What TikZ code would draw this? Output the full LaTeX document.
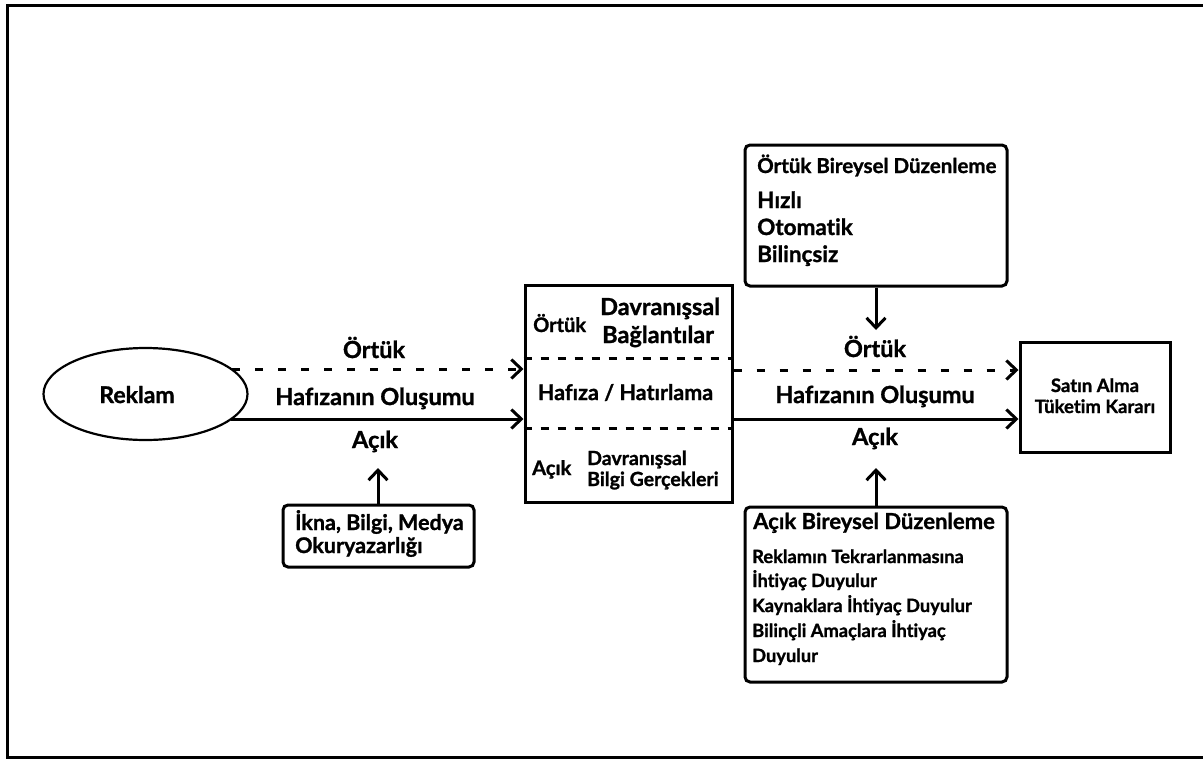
\documentclass[tikz,border=0pt]{standalone}
\usepackage{fontspec}
\setmainfont{Lato}[Ligatures=NoCommon, BoldFeatures={FakeBold=1.2}]
\usetikzlibrary{arrows.meta,shapes.geometric}
\begin{document}
\begin{tikzpicture}[x=1pt,y=-1pt,
  fs/.style={font=\bfseries\fontsize{#1}{#1}\selectfont, inner sep=0pt},
  box/.style={draw, line width=3pt, inner sep=0pt},
  rbox/.style={box, rounded corners=5pt},
  conn/.style={line width=3pt, -{Straight Barb[length=10pt,width=19pt,line width=3pt]}},
  dconn/.style={conn, dash pattern=on 8pt off 15pt},
  divider/.style={line width=3pt, dash pattern=on 8pt off 9pt},
]
\useasboundingbox (0,0) rectangle (1203,761);
\draw[line width=3pt] (7,5) rectangle (1210,757);

% main shapes
\node[draw, ellipse, line width=2.2pt, minimum width=204, minimum height=92, inner sep=0pt] (rek) at (145.5,394) {};
\node[fs=23, anchor=base] (rektxt) at (137,403) {Reklam};

\node[box, minimum width=207, minimum height=217] (mem) at (628.5,393.5) {};
\node[box, minimum width=150, minimum height=110] (buy) at (1095,397) {};
\node[rbox, minimum width=191, minimum height=62] (ikna) at (378.5,536) {};
\node[rbox, minimum width=262, minimum height=141] (ortb) at (876,215.5) {};
\node[rbox, minimum width=262, minimum height=175] (acb) at (876,594.5) {};

% dividers in memory box
\draw[divider] (mem.west |- 0,358) -- (mem.east |- 0,358);
\draw[divider] (mem.west |- 0,428) -- (mem.east |- 0,428);

% memory box texts
\node[fs=20, anchor=base west] (m1) at (533,332) {Örtük};
\node[fs=23.5, anchor=base west] (m2) at (600,315) {Davranışsal};
\node[fs=23.5, anchor=base west] (m3) at (602,343) {Bağlantılar};
\node[fs=21.5, anchor=base] (m4) at (625.5,400) {Hafıza / Hatırlama};
\node[fs=20, anchor=base west] (m5) at (532,475) {Açık};
\node[fs=19.5, anchor=base west] (m6) at (587,465) {Davranışsal};
\node[fs=19.5, anchor=base west] (m7) at (587,486) {Bilgi Gerçekleri};

% purchase box texts
\node[fs=18.5, anchor=base] (b1) at (1095,392) {Satın Alma};
\node[fs=18.5, anchor=base] (b2) at (1095,413) {Tüketim Kararı};

% ikna box texts
\node[fs=21.5, anchor=base west] (i1) at (295,530) {İkna, Bilgi, Medya};
\node[fs=21.5, anchor=base west] (i2) at (295,553) {Okuryazarlığı};

% implicit individual regulation
\node[fs=20.5, anchor=base west] (o1) at (757,173) {Örtük Bireysel Düzenleme};
\node[fs=22.5, anchor=base west] (o2) at (757,208) {Hızlı};
\node[fs=22.5, anchor=base west] (o3) at (757,235) {Otomatik};
\node[fs=22.5, anchor=base west] (o4) at (757,262) {Bilinçsiz};

% explicit individual regulation
\node[fs=22, anchor=base west] (a1) at (753,529) {Açık Bireysel Düzenleme};
\node[fs=18.3, anchor=base west] (a2) at (752,563) {Reklamın Tekrarlanmasına};
\node[fs=18.3, anchor=base west] (a3) at (752,587) {İhtiyaç Duyulur};
\node[fs=18.3, anchor=base west] (a4) at (752,612) {Kaynaklara İhtiyaç Duyulur};
\node[fs=18.3, anchor=base west] (a5) at (752,637) {Bilinçli Amaçlara İhtiyaç};
\node[fs=18.3, anchor=base west] (a6) at (752,662) {Duyulur};

% arrow labels
\node[fs=23.5, anchor=base] (l1) at (374,358) {Örtük};
\node[fs=23.5, anchor=base] (l2) at (375,405) {Hafızanın Oluşumu};
\node[fs=23.5, anchor=base] (l3) at (375,448) {Açık};
\node[fs=23.5, anchor=base] (r1) at (875,357) {Örtük};
\node[fs=23.5, anchor=base] (r2) at (875,403) {Hafızanın Oluşumu};
\node[fs=23.5, anchor=base] (r3) at (875,445) {Açık};

% connectors
\coordinate (ds) at (232,369);
\coordinate (ss) at (231,419);
\draw[dconn] (ds) -- (ds -| mem.west);
\draw[conn] (ss) -- (ss -| mem.west);
\draw[dconn] (mem.east |- 0,370) -- (buy.west |- 0,370);
\draw[conn] (mem.east |- 0,419) -- (buy.west |- 0,419);

\coordinate (t1) at (378,468);
\coordinate (t2) at (876,330);
\coordinate (t3) at (876,468);
\draw[conn] (ikna.north -| t1) -- (t1);
\draw[conn] (ortb.south) -- (t2);
\draw[conn] (acb.north) -- (t3);
\end{tikzpicture}
\end{document}
